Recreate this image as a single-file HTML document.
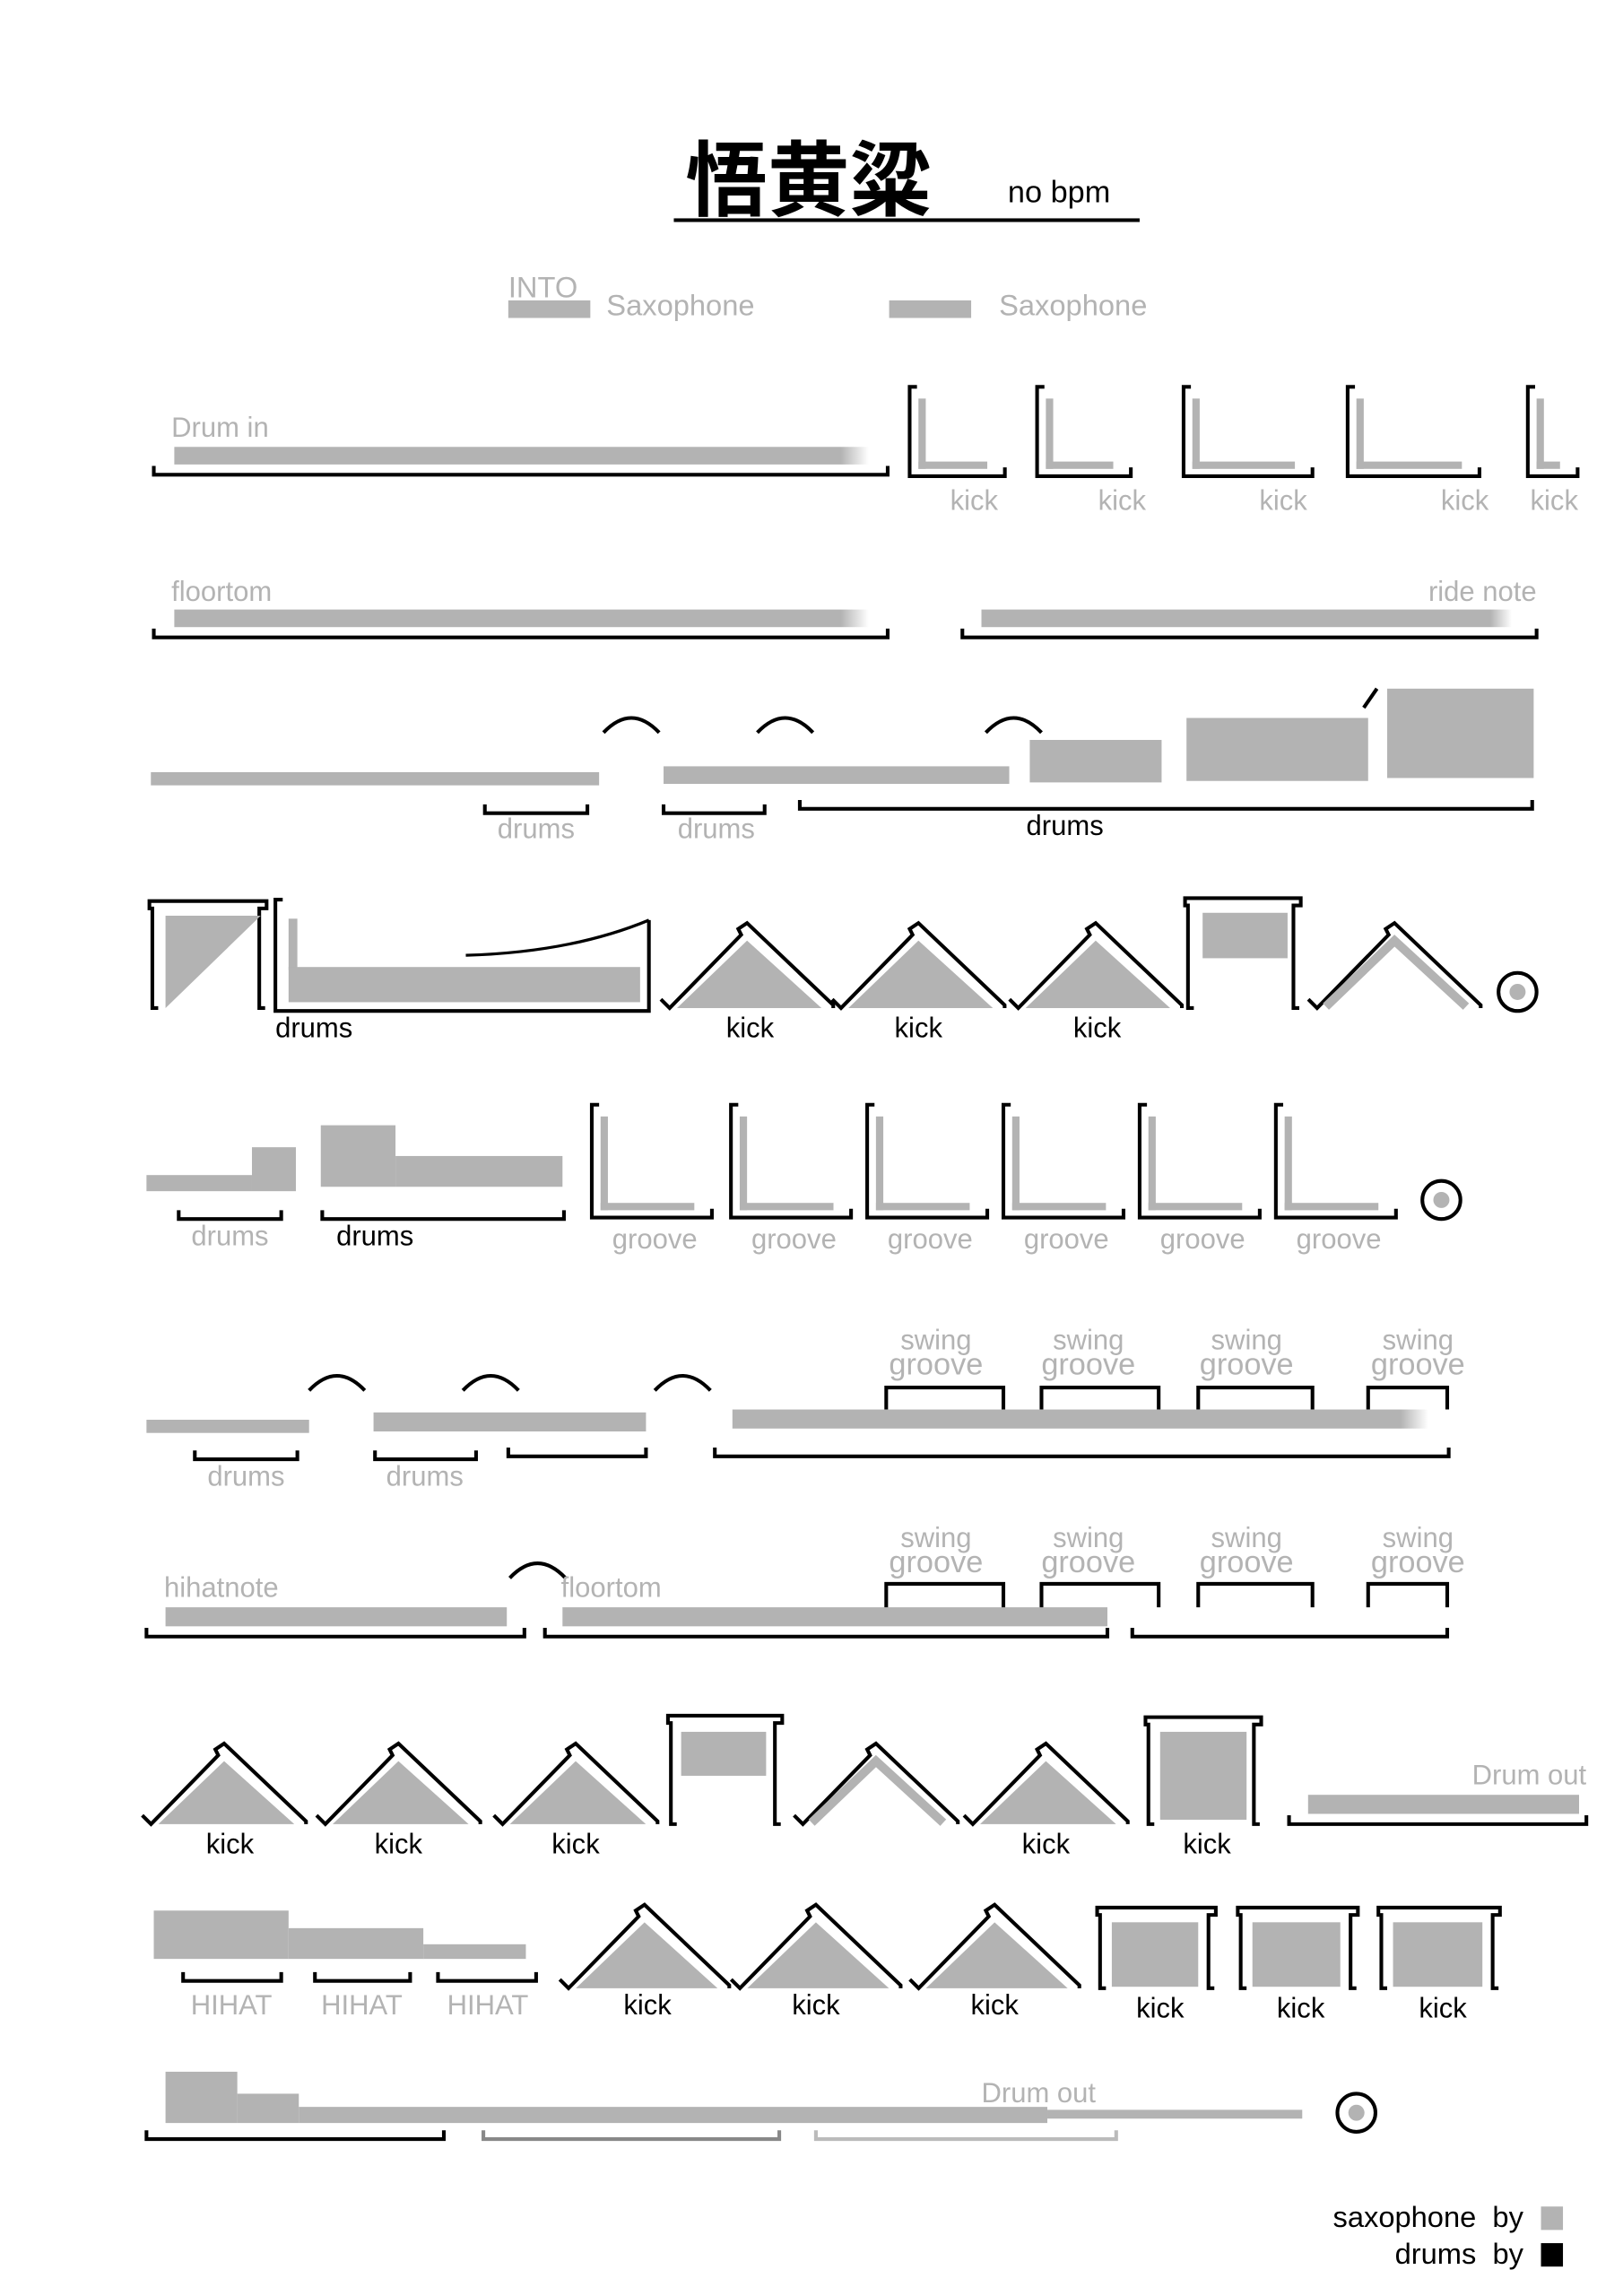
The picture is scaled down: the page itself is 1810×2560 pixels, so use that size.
<!DOCTYPE html>
<html><head><meta charset="utf-8"><style>
html,body{margin:0;padding:0;background:#fff;width:1810px;height:2560px;overflow:hidden}
svg{display:block}
text{font-family:"Liberation Sans","Noto Sans CJK SC",sans-serif}
</style></head><body>
<svg id="s" width="1810" height="2560" viewBox="0 0 1103 1560" xmlns="http://www.w3.org/2000/svg">
<defs>
<linearGradient id="fade" x1="0" x2="1"><stop offset="0.96" stop-color="#b3b3b3"/><stop offset="1" stop-color="#b3b3b3" stop-opacity="0"/></linearGradient>
</defs>
<g transform="scale(0.9955)">
<text x="468" y="143" font-size="56" font-weight="bold" fill="#000" font-family="'Noto Sans CJK SC',sans-serif">悟黄粱</text>
<text x="688" y="138" font-size="21" fill="#000">no bpm</text>
<rect x="460" y="149" width="318" height="2.5" fill="#000"/>
<text x="347" y="203" font-size="20" fill="#b3b3b3">INTO</text>
<rect x="347" y="205" width="56" height="12" fill="#b3b3b3"/>
<text x="414" y="215" font-size="20" fill="#b3b3b3">Saxophone</text>
<rect x="607" y="205" width="56" height="12" fill="#b3b3b3"/>
<text x="682" y="215" font-size="20" fill="#b3b3b3">Saxophone</text>
<g id="g"></g>
</g>
</svg>
<script>
var G=document.getElementById('g'),h='';
var GR='#b3b3b3';
function R(x,y,w,hh,c){h+='<rect x="'+x+'" y="'+y+'" width="'+w+'" height="'+hh+'" fill="'+(c||GR)+'"/>';}
function T(x,y,s,c,a,sz){h+='<text x="'+x+'" y="'+y+'" font-size="'+(sz||19)+'" fill="'+(c||GR)+'" text-anchor="'+(a||'start')+'">'+s+'</text>';}
function B(x1,x2,y,c){c=c||'#000';h+='<path d="M'+x1+' '+(y-6)+'V'+y+'H'+x2+'V'+(y-6)+'" fill="none" stroke="'+c+'" stroke-width="2.5"/>';}
function P(d,c,w){h+='<path d="'+d+'" fill="none" stroke="'+(c||'#000')+'" stroke-width="'+(w||2.5)+'"/>';}
function ARC(cx,y){P('M'+(cx-19)+' '+(y+9)+'Q'+cx+' '+(y-11)+' '+(cx+19)+' '+(y+9));}
function LK(x,w,top,bot){
 P('M'+(x+5)+' '+top+'H'+x+'V'+bot+'H'+(x+w)+'V'+(bot-6));
 R(x+6,top+8,5,bot-top-13);R(x+6,bot-10,w-18,5);
}
function TRI(cx,top,base,hollow){
 var hw=(base-top)*0.98;
 P('M'+(cx-hw-2)+' '+(base-6)+'L'+(cx-hw+4)+' '+base+'L'+(cx-4)+' '+(top+8)+'L'+(cx-6)+' '+(top+4)+'L'+cx+' '+top+'L'+(cx+hw+2)+' '+(base-2)+'V'+base);
 if(hollow){P('M'+(cx-hw+10)+' '+(base-1)+'L'+cx+' '+(top+12)+'L'+(cx+hw-8)+' '+(base-1),GR,6);}
 else h+='<polygon points="'+(cx-hw+9)+','+base+' '+cx+','+(top+12)+' '+(cx+hw-6)+','+base+'" fill="'+GR+'"/>';
}
function BOX(x1,x2,top,bot){
 P('M'+(x1+5)+' '+bot+'H'+(x1+1)+'V'+(top+5)+'H'+(x1-1)+'V'+top+'H'+(x2+1)+'V'+(top+5)+'H'+(x2-4)+'V'+bot+'H'+x2);
}
function SG(x1,x2,top,bot){P('M'+x1+' '+bot+'V'+top+'H'+x2+'V'+bot);}
T(117,298,'Drum in');R(119,305,474,12,'url(#fade)');B(105,606,324);
[[621,65],[708,64],[808,88],[920,90],[1043,34]].forEach(function(a){LK(a[0],a[1],264,325);});
[[665,'kick'],[766,'kick'],[876,'kick'],[1000,'kick'],[1061,'kick']].forEach(function(a){T(a[0],348,a[1],GR,'middle');});
T(117,410,'floortom');R(119,416,474,12,'url(#fade)');B(105,606,435);
T(1049,410,'ride note',GR,'end');R(670,416,362,12,'url(#fade)');B(657,1049,435);
R(103,527,306,9);R(453,523,236,12);R(703,505,90,29);R(810,490,124,43);R(947,470,100,61);
P('M931 483L940 470');ARC(431,491);ARC(536,491);ARC(692,491);
B(331,401,555);B(453,522,555);B(546,1046,552);
T(366,572,'drums',GR,'middle');T(489,572,'drums',GR,'middle');T(727,570,'drums','#000','middle');
BOX(103,181,615,688);h+='<polygon points="113,625 178,625 113,688" fill="'+GR+'"/>';
P('M193 614H188V690H443V628');R(197,627,6,35);R(197,660,240,24);P('M318 652Q390 650 443 628',"#000",2);
T(188,708,'drums','#000','start');
TRI(510,630,688);TRI(627,630,688);TRI(748,630,688);
T(512,708,'kick','#000','middle');T(627,708,'kick','#000','middle');T(749,708,'kick','#000','middle');
BOX(810,887,613,688);R(821,623,58,31);
TRI(952,630,688,true);
h+='<circle cx="1036" cy="677" r="13" fill="#fff" stroke="#000" stroke-width="2.5"/><circle cx="1036" cy="677" r="5.5" fill="'+GR+'"/>';
R(100,802,72,11);R(172,783,30,30);R(219,768,51,42);R(270,789,114,21);
B(122,192,832);B(220,385,832);T(157,850,'drums',GR,'middle');T(256,850,'drums','#000','middle');
[404,499,592,685,778,871].forEach(function(x){LK(x,82,754,831);T(x+43,852,'groove',GR,'middle');});
h+='<circle cx="984" cy="819" r="13" fill="#fff" stroke="#000" stroke-width="2.5"/><circle cx="984" cy="819" r="5.5" fill="'+GR+'"/>';
R(100,969,111,9);R(255,964,186,13);R(500,962,475,13,'url(#fade)');
ARC(230,940);ARC(335,940);ARC(466,940);
B(133,203,996);B(256,325,996);B(347,441,994);B(488,989,994);
T(168,1014,'drums',GR,'middle');T(290,1014,'drums',GR,'middle');
[[605,685,639],[711,791,743],[818,896,851],[934,988,968]].forEach(function(a){SG(a[0],a[1],947,962);T(a[2],921,'swing',GR,'middle');T(a[2],938,'groove',GR,'middle',21);});
T(112,1090,'hihatnote');R(113,1097,233,13);B(100,358,1117);ARC(367,1068);
T(383,1090,'floortom');R(384,1097,372,13);B(372,756,1117);B(773,988,1117);
[[605,685,639],[711,791,743],[818,896,851],[934,988,968]].forEach(function(a){SG(a[0],a[1],1081,1097);T(a[2],1056,'swing',GR,'middle');T(a[2],1073,'groove',GR,'middle',21);});
TRI(153,1190,1245);TRI(272,1190,1245);TRI(393,1190,1245);
BOX(457,533,1171,1245);R(465,1182,58,30);
TRI(598,1190,1245,true);TRI(714,1190,1245);
BOX(783,860,1172,1245);R(792,1182,59,60);
[[157,'kick'],[272,'kick'],[393,'kick'],[714,'kick'],[824,'kick']].forEach(function(a){T(a[0],1265,a[1],'#000','middle');});
T(1083,1218,'Drum out',GR,'end');R(893,1225,185,13);B(880,1083,1245);
R(105,1304,92,33);R(197,1316,92,21);R(289,1327,70,10);
B(125,192,1352);B(215,280,1352);B(299,366,1352);
T(158,1375,'HIHAT',GR,'middle');T(247,1375,'HIHAT',GR,'middle');T(333,1375,'HIHAT',GR,'middle');
TRI(440,1300,1357);TRI(557,1300,1357);TRI(679,1300,1357);
T(442,1375,'kick','#000','middle');T(557,1375,'kick','#000','middle');T(679,1375,'kick','#000','middle');
[[750,829,792],[846,926,888],[942,1023,985]].forEach(function(a){BOX(a[0],a[1],1302,1357);R(a[0]+9,1312,a[1]-a[0]-20,44);T(a[2],1377,'kick','#000','middle');});
R(113,1414,49,35);R(162,1429,42,20);R(204,1438,511,11);R(715,1440,174,6);
T(670,1435,'Drum out',GR,'start');
B(100,303,1460);B(330,532,1460,'#888');B(557,762,1460,'#bbb');
h+='<circle cx="926" cy="1442" r="13" fill="#fff" stroke="#000" stroke-width="2.5"/><circle cx="926" cy="1442" r="5.5" fill="'+GR+'"/>';
T(1040,1520,'saxophone&#160;&#160;by','#000','end',20);R(1052,1506,15,16);
T(1040,1545,'drums&#160;&#160;by','#000','end',20);R(1052,1531,15,16,'#000');
G.innerHTML=h;
</script>
</body></html>
